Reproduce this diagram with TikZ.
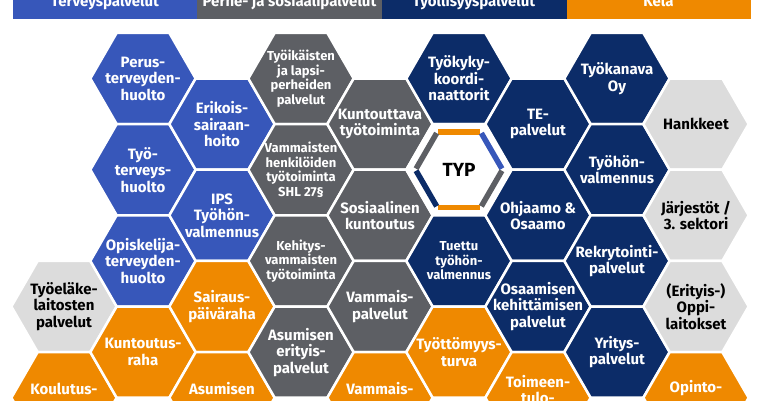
\documentclass[tikz,border=0pt]{standalone}
\usepackage{fontspec}
\setmainfont{Fira Sans}
\usetikzlibrary{shapes.geometric}
\definecolor{tblue}{RGB}{55,87,186}
\definecolor{pgray}{RGB}{93,95,100}
\definecolor{tnavy}{RGB}{12,44,104}
\definecolor{korange}{RGB}{239,137,0}
\definecolor{lgray}{RGB}{220,220,220}
\tikzset{
  hexcellst/.style={regular polygon, regular polygon sides=6, minimum size=105.3pt, inner sep=0pt, draw=white, line width=2.5pt},
  hx/.style={font=\bfseries\fontsize{15}{16.5}\selectfont, align=center, text=white, inner sep=0pt},
  hxs/.style={font=\bfseries\fontsize{13}{14.5}\selectfont, align=center, text=white, inner sep=0pt},
  hxk/.style={hx, text=black},
  hdrbar/.style={rectangle, minimum width=184.5pt, minimum height=18.7pt, inner sep=0pt, anchor=north west},
  hdrtxt/.style={font=\bfseries\fontsize{15}{16.5}\selectfont, text=white, anchor=base, inner sep=0pt},
  typedge/.style={line width=5.5pt, line cap=butt, shorten <=1.2pt, shorten >=1.2pt},
}
\begin{document}
\begin{tikzpicture}[x=1pt,y=-1pt]
\useasboundingbox (0,0) rectangle (760,400);
\clip (0,0) rectangle (760,400);
% header
\node[hdrbar, fill=tblue] (hb1) at (13,0) {};
\node[hdrbar, fill=pgray] (hb2) at (197,0) {};
\node[hdrbar, fill=tnavy] (hb3) at (382,0) {};
\node[hdrbar, fill=korange] (hb4) at (566.5,0) {};
\node[hdrtxt] (ht1) at (105,6.5) {Terveyspalvelut};
\node[hdrtxt] (ht2) at (289.5,6.5) {Perhe- ja sosiaalipalvelut};
\node[hdrtxt] (ht3) at (474,6.5) {Työllisyyspalvelut};
\node[hdrtxt] (ht4) at (658.5,6.5) {Kela};
% column 0
\node[hexcellst, fill=lgray] (h03) at (64,306.5) {};
\node[hexcellst, fill=korange] (h04) at (64,397.7) {};
% column 1
\node[hexcellst, fill=tblue] (h11) at (143,78.5) {};
\node[hexcellst, fill=tblue] (h12) at (143,169.7) {};
\node[hexcellst, fill=tblue] (h13) at (143,260.9) {};
\node[hexcellst, fill=korange] (h14) at (143,352.1) {};
% column 2
\node[hexcellst, fill=tblue] (h21) at (222,124.1) {};
\node[hexcellst, fill=tblue] (h22) at (222,215.3) {};
\node[hexcellst, fill=korange] (h23) at (222,306.5) {};
\node[hexcellst, fill=korange] (h24) at (222,397.7) {};
% column 3
\node[hexcellst, fill=pgray] (h31) at (301,78.5) {};
\node[hexcellst, fill=pgray] (h32) at (301,169.7) {};
\node[hexcellst, fill=pgray] (h33) at (301,260.9) {};
\node[hexcellst, fill=pgray] (h34) at (301,352.1) {};
% column 4
\node[hexcellst, fill=pgray] (h41) at (380,124.1) {};
\node[hexcellst, fill=pgray] (h42) at (380,215.3) {};
\node[hexcellst, fill=pgray] (h43) at (380,306.5) {};
\node[hexcellst, fill=korange] (h44) at (380,397.7) {};
% column 5
\node[hexcellst, fill=tnavy] (h51) at (459,78.5) {};
\node[hexcellst, fill=white] (h52) at (459,169.7) {};
\node[hexcellst, fill=tnavy] (h53) at (459,260.9) {};
\node[hexcellst, fill=korange] (h54) at (459,352.1) {};
% column 6
\node[hexcellst, fill=tnavy] (h61) at (538,124.1) {};
\node[hexcellst, fill=tnavy] (h62) at (538,215.3) {};
\node[hexcellst, fill=tnavy] (h63) at (538,306.5) {};
\node[hexcellst, fill=korange] (h64) at (538,397.7) {};
% column 7
\node[hexcellst, fill=tnavy] (h71) at (617,78.5) {};
\node[hexcellst, fill=tnavy] (h72) at (617,169.7) {};
\node[hexcellst, fill=tnavy] (h73) at (617,260.9) {};
\node[hexcellst, fill=tnavy] (h74) at (617,352.1) {};
% column 8
\node[hexcellst, fill=lgray] (h81) at (696,124.1) {};
\node[hexcellst, fill=lgray] (h82) at (696,215.3) {};
\node[hexcellst, fill=lgray] (h83) at (696,306.5) {};
\node[hexcellst, fill=korange] (h84) at (696,397.7) {};
% TYP border
\coordinate (b0) at (502.5,169.7);
\coordinate (b1) at (480.75,207.3);
\coordinate (b2) at (437.25,207.3);
\coordinate (b3) at (415.5,169.7);
\coordinate (b4) at (437.25,132.1);
\coordinate (b5) at (480.75,132.1);
\draw[typedge, korange] (b4) -- (b5);
\draw[typedge, tblue] (b5) -- (b0);
\draw[typedge, pgray] (b0) -- (b1);
\draw[typedge, korange] (b1) -- (b2);
\draw[typedge, tnavy] (b2) -- (b3);
\draw[typedge, pgray] (b3) -- (b4);
% texts
\node[hxk] (t03) at (h03) {Työeläke-\\laitosten\\palvelut};
\node[hx] (t04) at (64,388.5) {Koulutus-};
\node[hx] (t11) at (h11) {Perus-\\terveyden-\\huolto};
\node[hx] (t12) at (h12) {Työ-\\terveys-\\huolto};
\node[hx] (t13) at (h13) {Opiskelija-\\terveyden-\\huolto};
\node[hx] (t14) at (h14) {Kuntoutus-\\raha};
\node[hx] (t21) at (h21) {Erikois-\\sairaan-\\hoito};
\node[hx] (t22) at (h22) {IPS\\Työhön-\\valmennus};
\node[hx] (t23) at (h23) {Sairaus-\\päiväraha};
\node[hx] (t24) at (222,388.5) {Asumisen};
\node[hxs] (t31) at (h31) {Työikäisten\\ja lapsi-\\perheiden\\palvelut};
\node[hxs] (t32) at (h32) {Vammaisten\\henkilöiden\\työtoiminta\\SHL 27§};
\node[hxs] (t33) at (h33) {Kehitys-\\vammaisten\\työtoiminta};
\node[hx] (t34) at (h34) {Asumisen\\erityis-\\palvelut};
\node[hx] (t41) at (h41) {Kuntouttava\\työtoiminta};
\node[hx] (t42) at (h42) {Sosiaalinen\\kuntoutus};
\node[hx] (t43) at (h43) {Vammais-\\palvelut};
\node[hx] (t44) at (380,388.5) {Vammais-};
\node[hx] (t51) at (h51) {Työkyky-\\koordi-\\naattorit};
\node[font=\bfseries\fontsize{19}{21}\selectfont, text=black, inner sep=0pt] (t52) at (h52) {TYP};
\node[hxs] (t53) at (h53) {Tuettu\\työhön-\\valmennus};
\node[hx] (t54) at (h54) {Työttömyys-\\turva};
\node[hx] (t61) at (h61) {TE-\\palvelut};
\node[hx] (t62) at (h62) {Ohjaamo \&\\Osaamo};
\node[hx] (t63) at (h63) {Osaamisen\\kehittämisen\\palvelut};
\node[hx] (t64) at (538,389.5) {Toimeen-\\tulo-};
\node[hx] (t71) at (h71) {Työkanava\\Oy};
\node[hx] (t72) at (h72) {Työhön-\\valmennus};
\node[hx] (t73) at (h73) {Rekrytointi-\\palvelut};
\node[hx] (t74) at (h74) {Yritys-\\palvelut};
\node[hxk] (t81) at (h81) {Hankkeet};
\node[hxk] (t82) at (h82) {Järjestöt /\\3. sektori};
\node[hxk] (t83) at (h83) {(Erityis-)\\Oppi-\\laitokset};
\node[hx] (t84) at (696,388.5) {Opinto-};
\end{tikzpicture}
\end{document}
